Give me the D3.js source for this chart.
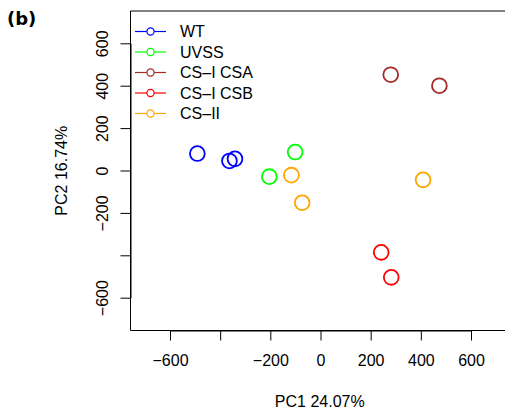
<!DOCTYPE html>
<html>
<head>
<meta charset="utf-8">
<script src="https://cdn.jsdelivr.net/npm/d3@7"></script>
<style>
  body { margin: 0; background: #fff; }
  svg { display: block; }
  text { font-family: "Liberation Sans", Arial, Helvetica, sans-serif; }
</style>
</head>
<body>
<svg id="chart" width="505" height="410"></svg>
<script>
// ---- data ----
const groups = ["WT", "UVSS", "CS\u2013I CSA", "CS\u2013I CSB", "CS\u2013II"];
const colors = ["#0000FF", "#00FF00", "#A52A2A", "#FF0000", "#FFA500"];
const wtPC1   = [-491, -363, -341];
const wtPC2   = [80, 45, 55];
const uvssPC1 = [-101, -204];
const uvssPC2 = [87, -29];
const csaPC1  = [280, 474];
const csaPC2  = [452, 400];
const csbPC1  = [242, 282];
const csbPC2  = [-386, -504];
const cs2PC1  = [-116, -73, 409];
const cs2PC2  = [-22, -152, -44];
const xTicks = [-600, -400, -200, 0, 200, 400, 600];
const yTicks = [-600, -400, -200, 0, 200, 400, 600];
const hiddenLabels = [-400];

const pc1 = [wtPC1, uvssPC1, csaPC1, csbPC1, cs2PC1];
const pc2 = [wtPC2, uvssPC2, csaPC2, csbPC2, cs2PC2];
const points = [];
pc1.forEach((xs, g) => xs.forEach((x, i) => points.push({ g, x, y: pc2[g][i] })));

// ---- layout ----
const svg = d3.select("#chart");
const box = { left: 130.5, top: 11, right: 509, bottom: 330.5 };
const x = d3.scaleLinear().domain([-600, 600]).range([170, 471]);
const y = d3.scaleLinear().domain([-600, 600]).range([297.7, 43.3]);
const fmt = d => hiddenLabels.includes(d) ? "" : d3.format("")(d).replace("-", "\u2212");

// plot box
svg.append("path")
  .attr("d", `M${box.right},${box.top}H${box.left}V${box.bottom}H${box.right}`)
  .attr("fill", "none").attr("stroke", "#000").attr("stroke-width", 1);

// x axis
const gx = svg.append("g").attr("transform", `translate(0,${box.bottom})`)
  .call(d3.axisBottom(x).tickValues(xTicks).tickFormat(fmt).tickSize(10).tickPadding(14).tickSizeOuter(0));
gx.select(".domain").attr("stroke", "#000");
gx.selectAll(".tick line").attr("stroke", "#000");
gx.selectAll("text").attr("font-size", 16).attr("fill", "#000")
  .style("font-family", '"Liberation Sans", Arial, sans-serif');

// y axis
const gy = svg.append("g").attr("transform", `translate(${box.left},0)`)
  .call(d3.axisLeft(y).tickValues(yTicks).tickFormat(fmt).tickSize(10).tickSizeOuter(0));
gy.select(".domain").attr("stroke", "#000");
gy.selectAll(".tick line").attr("stroke", "#000");
gy.selectAll("text")
  .attr("x", 0).attr("dy", 0)
  .attr("text-anchor", "middle")
  .attr("transform", `translate(${108 - box.left},0) rotate(-90)`)
  .attr("font-size", 16).attr("fill", "#000")
  .style("font-family", '"Liberation Sans", Arial, sans-serif');

// axis titles
svg.append("text").attr("x", (box.left + box.right) / 2).attr("y", 407)
  .attr("text-anchor", "middle").attr("font-size", 16).text("PC1 24.07%");
svg.append("text")
  .attr("transform", `translate(66.5,${(box.top + box.bottom) / 2}) rotate(-90)`)
  .attr("text-anchor", "middle").attr("font-size", 16).text("PC2 16.74%");

// panel label
svg.append("text").attr("x", 7).attr("y", 25)
  .attr("font-size", 18).attr("font-weight", "bold")
  .style("font-family", '"DejaVu Sans", sans-serif').text("(b)");

// points
svg.append("g").selectAll("circle").data(points).join("circle")
  .attr("cx", d => x(d.x)).attr("cy", d => y(d.y)).attr("r", 7.4)
  .attr("fill", "none").attr("stroke", d => colors[d.g]).attr("stroke-width", 1.8);

// legend
const leg = svg.append("g").selectAll("g").data(groups).join("g")
  .attr("transform", (d, i) => `translate(0,${31.5 + i * 20.5})`);
leg.append("line").attr("x1", 135).attr("x2", 166).attr("y1", 0).attr("y2", 0)
  .attr("stroke", (d, i) => colors[i]).attr("stroke-width", 1.2);
leg.append("circle").attr("cx", 150.5).attr("cy", 0).attr("r", 3.6)
  .attr("fill", "#fff").attr("stroke", (d, i) => colors[i]).attr("stroke-width", 1.2);
leg.append("text").attr("x", 180).attr("y", 0).attr("dy", "0.36em")
  .attr("font-size", 16).text(d => d);
</script>
</body>
</html>
